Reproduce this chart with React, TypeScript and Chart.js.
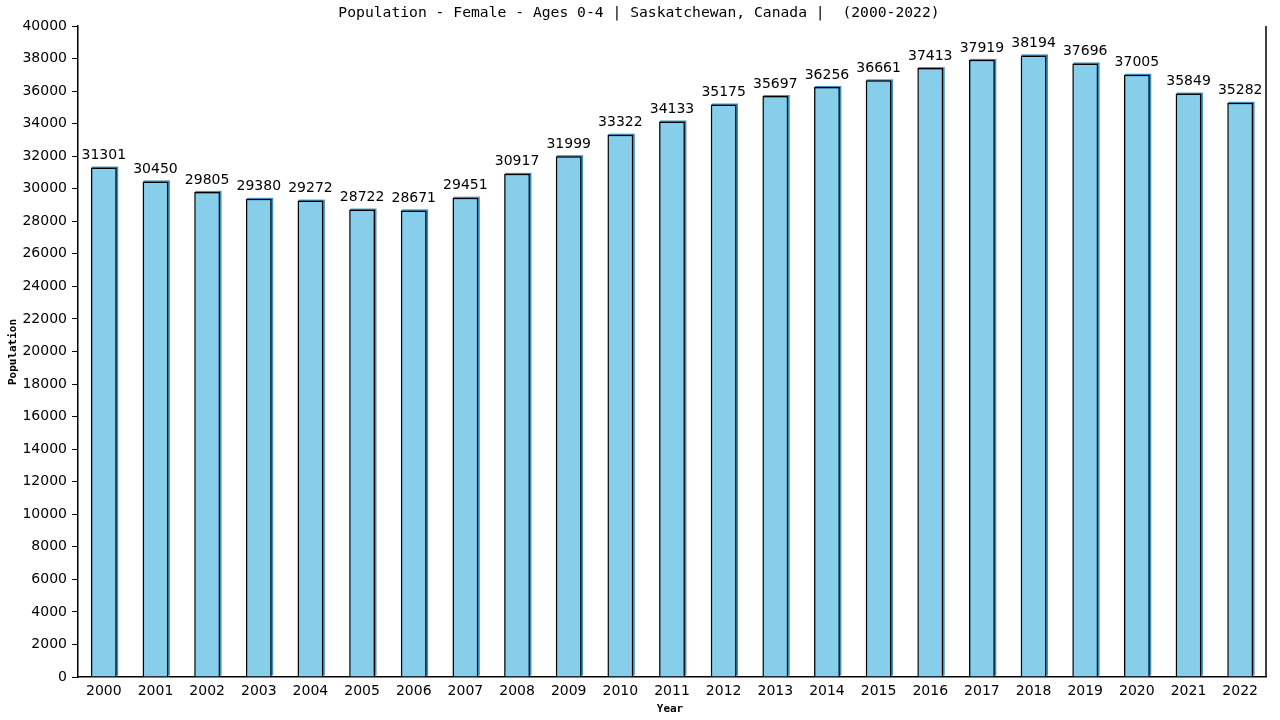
import { useEffect, useRef } from "react"
import { Chart, registerables } from "chart.js"

Chart.register(...registerables)

const years = [
  "2000", "2001", "2002", "2003", "2004", "2005", "2006", "2007", "2008", "2009", "2010", "2011",
  "2012", "2013", "2014", "2015", "2016", "2017", "2018", "2019", "2020", "2021", "2022",
]
const population = [
  31301, 30450, 29805, 29380, 29272, 28722, 28671, 29451, 30917, 31999, 33322, 34133,
  35175, 35697, 36256, 36661, 37413, 37919, 38194, 37696, 37005, 35849, 35282,
]
const chartTitle = "Population - Female - Ages 0-4 | Saskatchewan, Canada |  (2000-2022)"

const sansFamily = "'DejaVu Sans', Verdana, sans-serif"

// blue edge just above / right of each bar, drawn before the bars
const barShadow = {
  id: "barShadow",
  beforeDatasetsDraw(chart: Chart) {
    const { ctx } = chart
    ctx.save()
    ctx.fillStyle = "#3f8fbf"
    chart.getDatasetMeta(0).data.forEach((bar: any) => {
      const { x, y, base, width } = bar.getProps(["x", "y", "base", "width"], true)
      ctx.fillRect(x - width / 2 + 1, y - 1, width + 0.5, base - y)
    })
    ctx.restore()
  },
}

// title, axis titles, value labels and the right frame line
const decorations = {
  id: "decorations",
  afterDraw(chart: Chart) {
    const { ctx, chartArea } = chart
    ctx.save()
    ctx.fillStyle = "#000"
    ctx.textAlign = "center"
    ctx.textBaseline = "middle"
    ctx.font = "14.7px 'DejaVu Sans Mono', monospace"
    ctx.fillText(chartTitle, 639, 13)

    ctx.font = "bold 11px 'DejaVu Sans Mono', monospace"
    ctx.fillText("Year", 670, 709)
    ctx.translate(13, 352)
    ctx.rotate(-Math.PI / 2)
    ctx.fillText("Population", 0, 0)
    ctx.restore()

    ctx.save()
    ctx.strokeStyle = "#000"
    ctx.lineWidth = 1.5
    ctx.beginPath()
    ctx.moveTo(chartArea.right, chartArea.top)
    ctx.lineTo(chartArea.right, chartArea.bottom)
    ctx.stroke()

    ctx.font = `14px ${sansFamily}`
    ctx.fillStyle = "#000"
    ctx.textAlign = "center"
    ctx.textBaseline = "bottom"
    chart.getDatasetMeta(0).data.forEach((bar, i) => {
      ctx.fillText(String(population[i]), bar.x, bar.y - 5)
    })
    ctx.restore()
  },
}

export default function App() {
  const chartRef = useRef<HTMLCanvasElement>(null)
  const chartInstance = useRef<Chart | null>(null)

  useEffect(() => {
    document.body.style.margin = "0"
    if (!chartRef.current) return
    if (chartInstance.current) chartInstance.current.destroy()

    chartInstance.current = new Chart(chartRef.current, {
      type: "bar",
      data: {
        labels: years,
        datasets: [
          {
            label: "Population",
            data: population,
            backgroundColor: "#87CEEB",
            borderColor: "#000",
            borderWidth: { top: 1.5, left: 1.5, right: 1.5, bottom: 0 },
            categoryPercentage: 1,
            barPercentage: 0.5,
          },
        ],
      },
      options: {
        responsive: false,
        animation: false,
        layout: { padding: { top: 26, right: 14, left: 0, bottom: 0 } },
        plugins: {
          legend: { display: false },
          title: { display: false },
          tooltip: { enabled: false },
        },
        scales: {
          x: {
            grid: { display: false, drawTicks: false },
            border: { display: true, color: "#000", width: 1.5 },
            ticks: {
              color: "#000",
              font: { family: sansFamily, size: 14 },
              padding: 6,
              maxRotation: 0,
              autoSkip: false,
            },
            afterFit(scale) {
              scale.height = 43
            },
          },
          y: {
            min: 0,
            max: 40000,
            grid: { drawOnChartArea: false, drawTicks: true, tickLength: 6, color: "#000", lineWidth: 1 },
            border: { display: true, color: "#000", width: 1.5 },
            ticks: {
              stepSize: 2000,
              color: "#000",
              font: { family: sansFamily, size: 14 },
              padding: 5,
              callback: (v) => String(v),
            },
            afterFit(scale) {
              scale.width = 78
            },
          },
        },
      },
      plugins: [barShadow, decorations],
    })

    return () => {
      if (chartInstance.current) {
        chartInstance.current.destroy()
        chartInstance.current = null
      }
    }
  }, [])

  return <canvas ref={chartRef} width={1280} height={720} style={{ display: "block" }} />
}
